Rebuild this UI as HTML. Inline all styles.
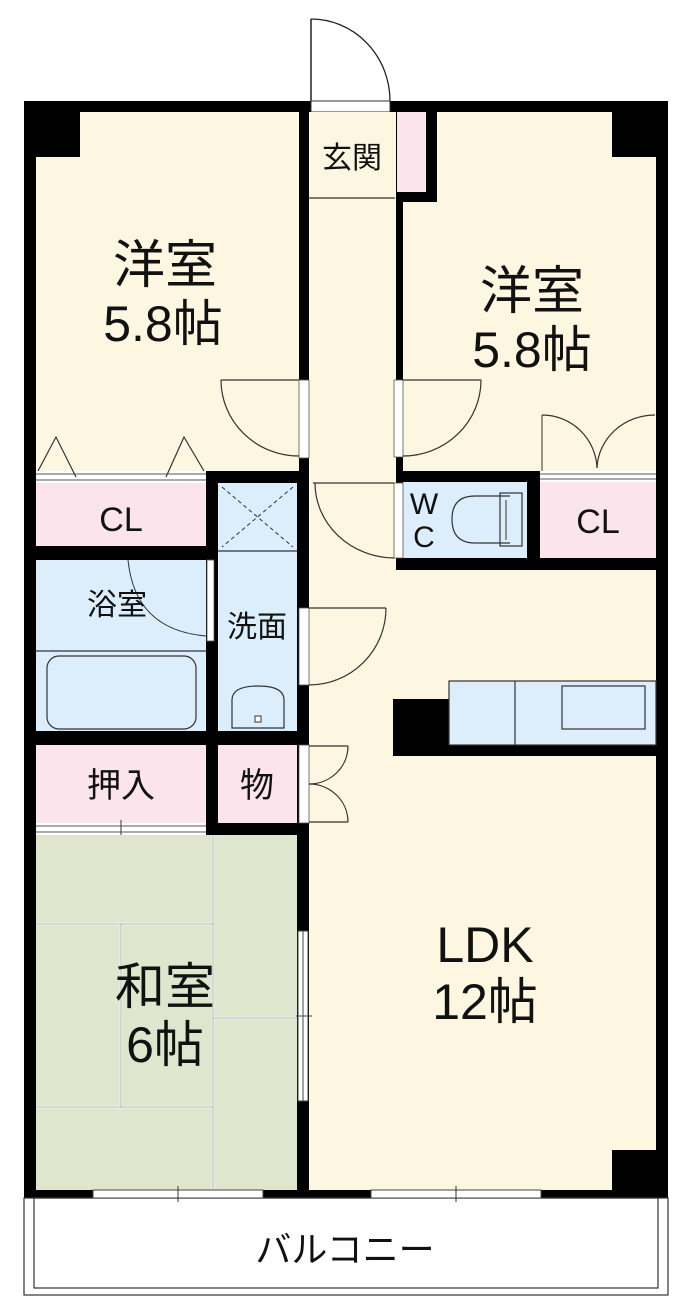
<!DOCTYPE html>
<html><head><meta charset="utf-8"><style>
html,body{margin:0;padding:0;background:#fff;}
svg{display:block;}
text{font-family:"Liberation Sans","Noto Sans CJK JP",sans-serif;fill:#111;text-anchor:middle;}
</style></head><body>
<svg width="700" height="1308" viewBox="0 0 700 1308" xmlns="http://www.w3.org/2000/svg">
<line x1="311" y1="19" x2="311" y2="101" stroke="#222" stroke-width="1.5"/>
<path d="M311 19 A79 82 0 0 1 390 101" fill="none" stroke="#222" stroke-width="1.3"/>
<rect x="24" y="101" width="644" height="1097" fill="#000"/>
<rect x="24" y="1198" width="644" height="97" fill="#fff" stroke="#333" stroke-width="1.2"/>
<rect x="34" y="1198" width="624" height="90" fill="none" stroke="#333" stroke-width="1.2"/>
<text x="345" y="1262" font-size="36">バルコニー</text>
<rect x="311" y="101" width="79" height="11" fill="#fff" stroke="#333" stroke-width="1"/>
<rect x="36" y="112" width="263" height="359" fill="#fdf6e1"/>
<rect x="36" y="112" width="44" height="45" fill="#000"/>
<rect x="309" y="112" width="87" height="460" fill="#fdf6e1"/>
<line x1="309" y1="198" x2="395" y2="198" stroke="#333" stroke-width="1.2"/>
<rect x="397" y="112" width="29" height="80" fill="#fbe4ec"/>
<rect x="437" y="112" width="219" height="90" fill="#fdf6e1"/>
<rect x="403" y="202" width="253" height="269" fill="#fdf6e1"/>
<rect x="612" y="112" width="44" height="45" fill="#000"/>
<rect x="309" y="570" width="347" height="620" fill="#fdf6e1"/>
<rect x="612" y="1150" width="44" height="40" fill="#000"/>
<rect x="393" y="699" width="263" height="57" fill="#000"/>
<rect x="449" y="681" width="207" height="64" fill="#dceefb" stroke="#333" stroke-width="1.2"/>
<line x1="515" y1="681" x2="515" y2="745" stroke="#333" stroke-width="1.2"/>
<rect x="562" y="686" width="83" height="43" fill="none" stroke="#333" stroke-width="1.2"/>
<rect x="36" y="471" width="170" height="12" fill="#fff"/>
<line x1="36" y1="474" x2="206" y2="474" stroke="#555" stroke-width="1"/>
<line x1="36" y1="480" x2="206" y2="480" stroke="#555" stroke-width="1"/>
<polyline points="38,471 56,437 76,477" fill="none" stroke="#333" stroke-width="1.2"/>
<polyline points="166,477 184,437 204,471" fill="none" stroke="#333" stroke-width="1.2"/>
<rect x="36" y="483" width="170" height="63" fill="#fbe4ec"/>
<text x="121" y="531" font-size="34">CL</text>
<rect x="218" y="483" width="79" height="248" fill="#dceefb"/>
<line x1="218" y1="551" x2="297" y2="551" stroke="#333" stroke-width="1.2"/>
<line x1="222" y1="487" x2="293" y2="547" stroke="#333" stroke-width="1" stroke-dasharray="4,3"/>
<line x1="293" y1="487" x2="222" y2="547" stroke="#333" stroke-width="1" stroke-dasharray="4,3"/>
<text x="257" y="637" font-size="30">洗面</text>
<path d="M232 728 L232 700 Q232 686 258 686 Q284 686 284 700 L284 728 Z" fill="none" stroke="#333" stroke-width="1.2"/>
<rect x="255" y="716" width="6" height="6" fill="#fff" stroke="#333" stroke-width="1"/>
<rect x="36" y="560" width="170" height="171" fill="#dceefb"/>
<line x1="36" y1="651" x2="206" y2="651" stroke="#333" stroke-width="1.2"/>
<rect x="47" y="656" width="149" height="73" rx="12" fill="none" stroke="#333" stroke-width="1.2"/>
<rect x="207" y="560" width="7" height="81" fill="#fff" stroke="#555" stroke-width="0.8"/>
<path d="M128 560 Q135 630 206 636" fill="none" stroke="#333" stroke-width="1"/>
<text x="117" y="615" font-size="30">浴室</text>
<rect x="36" y="745" width="170" height="78" fill="#fbe4ec"/>
<text x="121" y="797" font-size="34">押入</text>
<rect x="218" y="745" width="79" height="78" fill="#fbe4ec"/>
<text x="257" y="797" font-size="34">物</text>
<rect x="36" y="823" width="170" height="12" fill="#fff"/>
<line x1="36" y1="826" x2="206" y2="826" stroke="#555" stroke-width="1"/>
<line x1="36" y1="832" x2="206" y2="832" stroke="#555" stroke-width="1"/>
<line x1="121" y1="820" x2="121" y2="838" stroke="#333" stroke-width="1"/>
<rect x="36" y="835" width="261" height="355" fill="#dfe6cd"/>
<g stroke="#fff" stroke-width="2.5">
<line x1="213" y1="835" x2="213" y2="1190"/>
<line x1="36" y1="924" x2="213" y2="924"/>
<line x1="121" y1="924" x2="121" y2="1107"/>
<line x1="36" y1="1107" x2="213" y2="1107"/>
<line x1="213" y1="1018" x2="297" y2="1018"/>
</g>
<g stroke="#999" stroke-width="0.8">
<line x1="213" y1="835" x2="213" y2="1190"/>
<line x1="36" y1="924" x2="213" y2="924"/>
<line x1="121" y1="924" x2="121" y2="1107"/>
<line x1="36" y1="1107" x2="213" y2="1107"/>
<line x1="213" y1="1018" x2="297" y2="1018"/>
</g>
<text x="165" y="1004" font-size="50">和室</text>
<text x="165" y="1062" font-size="50">6帖</text>
<rect x="298" y="931" width="10" height="170" fill="#fff" stroke="#444" stroke-width="1"/>
<line x1="303" y1="931" x2="303" y2="1101" stroke="#444" stroke-width="1"/>
<line x1="296" y1="1016" x2="312" y2="1016" stroke="#444" stroke-width="1"/>
<rect x="403" y="482" width="124" height="76" fill="#dceefb"/>
<rect x="394" y="483" width="9" height="75" fill="#fff" stroke="#555" stroke-width="0.8"/>
<text x="424" y="514" font-size="30">W</text>
<text x="424" y="547" font-size="30">C</text>
<path d="M510 496 L475 496 Q452 496 452 519 Q452 543 475 543 L510 543" fill="none" stroke="#333" stroke-width="1.2"/>
<rect x="500" y="493" width="22" height="53" fill="none" stroke="#333" stroke-width="1.2"/>
<line x1="506" y1="500" x2="506" y2="540" stroke="#333" stroke-width="1"/>
<rect x="540" y="471" width="116" height="11" fill="#fff"/>
<line x1="540" y1="474" x2="656" y2="474" stroke="#555" stroke-width="1"/>
<line x1="540" y1="479" x2="656" y2="479" stroke="#555" stroke-width="1"/>
<rect x="540" y="482" width="116" height="76" fill="#fbe4ec"/>
<text x="598" y="533" font-size="34">CL</text>
<line x1="542" y1="415" x2="542" y2="471" stroke="#333" stroke-width="1"/>
<path d="M542 415 A55 55 0 0 1 597 468" fill="none" stroke="#333" stroke-width="1.2"/>
<path d="M655 415 A58 55 0 0 0 597 468" fill="none" stroke="#333" stroke-width="1.2"/>
<line x1="313" y1="483" x2="394" y2="483" stroke="#333" stroke-width="1.2"/>
<path d="M315 483 A80 75 0 0 0 394 558" fill="none" stroke="#333" stroke-width="1.2"/>
<rect x="299" y="380" width="10" height="78" fill="#fff" stroke="#555" stroke-width="0.8"/>
<line x1="221" y1="380" x2="299" y2="380" stroke="#333" stroke-width="1.3"/>
<path d="M221 380 A78 76 0 0 0 299 456" fill="none" stroke="#333" stroke-width="1.2"/>
<rect x="394" y="380" width="9" height="77" fill="#fff" stroke="#555" stroke-width="0.8"/>
<line x1="403" y1="380" x2="481" y2="380" stroke="#333" stroke-width="1.3"/>
<path d="M481 380 A78 76 0 0 1 403 456" fill="none" stroke="#333" stroke-width="1.2"/>
<rect x="299" y="608" width="10" height="77" fill="#fff" stroke="#555" stroke-width="0.8"/>
<line x1="309" y1="608" x2="386" y2="608" stroke="#333" stroke-width="1.3"/>
<path d="M386 608 A77 77 0 0 1 309 685" fill="none" stroke="#333" stroke-width="1.2"/>
<rect x="299" y="745" width="10" height="78" fill="#fff" stroke="#555" stroke-width="0.8"/>
<line x1="309" y1="746" x2="348" y2="746" stroke="#333" stroke-width="1.2"/>
<path d="M348 746 A39 38 0 0 1 309 784" fill="none" stroke="#333" stroke-width="1.2"/>
<line x1="309" y1="822" x2="348" y2="822" stroke="#333" stroke-width="1.2"/>
<path d="M348 822 A39 38 0 0 0 309 784" fill="none" stroke="#333" stroke-width="1.2"/>
<rect x="93" y="1190" width="170" height="8" fill="#fff" stroke="#444" stroke-width="1"/>
<line x1="178" y1="1186" x2="178" y2="1202" stroke="#333" stroke-width="1"/>
<rect x="371" y="1190" width="170" height="8" fill="#fff" stroke="#444" stroke-width="1"/>
<line x1="456" y1="1186" x2="456" y2="1202" stroke="#333" stroke-width="1"/>
<text x="352" y="168" font-size="30">玄関</text>
<text x="165" y="283" font-size="52">洋室</text>
<text x="163" y="341" font-size="50">5.8帖</text>
<text x="532" y="309" font-size="52">洋室</text>
<text x="532" y="367" font-size="50">5.8帖</text>
<text x="485" y="962" font-size="50">LDK</text>
<text x="485" y="1019" font-size="50">12帖</text>
</svg>
</body></html>
